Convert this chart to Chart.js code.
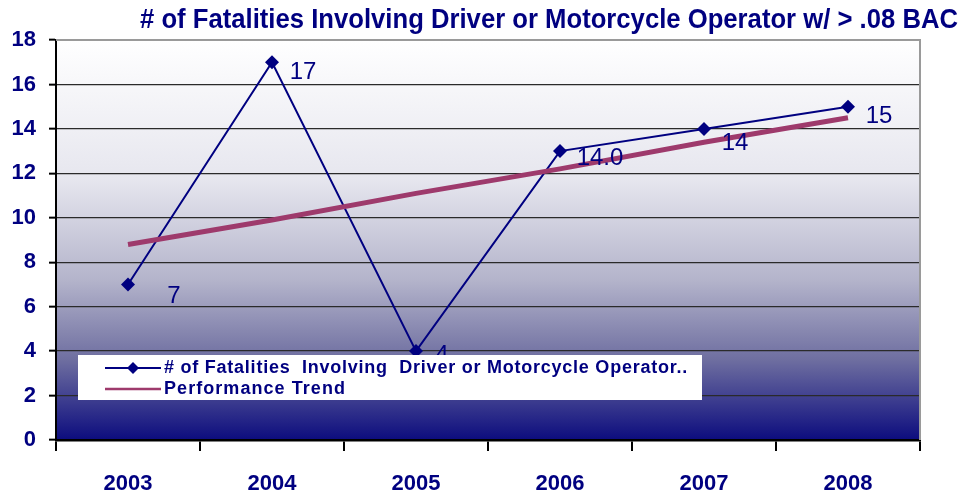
<!DOCTYPE html>
<html>
<head>
<meta charset="utf-8">
<script src="https://cdn.jsdelivr.net/npm/chart.js@4.4.0/dist/chart.umd.min.js"></script>
<style>
  html, body { margin: 0; padding: 0; background: #fff; }
  #wrap { width: 964px; height: 496px; position: relative; }
</style>
</head>
<body>
<div id="wrap"><canvas id="bac_chart" width="964" height="496"></canvas></div>
<script>
// chart data
const years = ["2003", "2004", "2005", "2006", "2007", "2008"];
const fatalities = [7, 17, 4, 13, 14, 15];
const pointLabels = ["7", "17", "4", "14.0", "14", "15"];
const trendValues = [8.8, 9.9, 11.1, 12.2, 13.4, 14.5];
const seriesName = "# of Fatalities  Involving  Driver or Motorcycle Operator..";
const trendName = "Performance Trend";
const chartTitle = "# of Fatalities Involving Driver or Motorcycle Operator w/ > .08 BAC";

const NAVY = "#000080";
const TREND = "#9e3a6c";

// label offsets from each point (px)
const labelOffsets = [[46, 12], [31, 10], [26, 4], [40, 7], [31, 14], [31, 10]];

// draw text squeezed/stretched to a given width
function fitText(c, txt, x, y, w) {
  const m = c.measureText(txt).width;
  c.save();
  c.translate(x, y);
  c.scale(w / m, 1);
  c.fillText(txt, 0, 0);
  c.restore();
}

function spacedText(c, txt, x, y, w) {
  c.save();
  c.letterSpacing = "0px";
  const m = c.measureText(txt).width;
  const sp = (w - m) / txt.length;
  c.letterSpacing = sp + "px";
  c.fillText(txt, x, y);
  c.restore();
}

const bgPlugin = {
  id: "bg",
  beforeDraw(chart) {
    const { ctx, chartArea: a } = chart;
    const g = ctx.createLinearGradient(0, a.top, 0, a.bottom);
    g.addColorStop(0, "#ffffff");
    g.addColorStop(0.35, "#e6e6ee");
    g.addColorStop(0.6, "#b4b4cb");
    g.addColorStop(0.8, "#6e6ea0");
    g.addColorStop(1, "#0c0c7e");
    ctx.save();
    ctx.fillStyle = g;
    ctx.fillRect(a.left, a.top, a.right - a.left, a.bottom - a.top);
    ctx.restore();
  },
  afterDraw(chart) {
    const { ctx, chartArea: a } = chart;
    ctx.save();
    // top / right frame
    ctx.strokeStyle = "#9a9a9a";
    ctx.lineWidth = 2;
    ctx.beginPath();
    ctx.moveTo(a.left, a.top);
    ctx.lineTo(a.right, a.top);
    ctx.lineTo(a.right, a.bottom);
    ctx.stroke();

    // title
    ctx.fillStyle = NAVY;
    ctx.font = "bold 27px 'Liberation Sans', Arial, sans-serif";
    ctx.textBaseline = "middle";
    ctx.textAlign = "left";
    fitText(ctx, chartTitle, 140, 21, 818);
    ctx.restore();
  }
};

const labelPlugin = {
  id: "pointText",
  afterDatasetsDraw(chart) {
    const { ctx } = chart;
    const meta = chart.getDatasetMeta(1);
    ctx.save();
    ctx.fillStyle = NAVY;
    ctx.font = "24px 'Liberation Sans', Arial, sans-serif";
    ctx.textAlign = "center";
    ctx.textBaseline = "middle";
    meta.data.forEach((pt, i) => {
      ctx.fillText(pointLabels[i], pt.x + labelOffsets[i][0], pt.y + labelOffsets[i][1]);
    });
    ctx.restore();
  },
  afterDraw(chart) {
    // legend box sitting inside the plot
    const { ctx } = chart;
    ctx.save();
    ctx.fillStyle = "#ffffff";
    ctx.fillRect(78, 355, 624, 45);
    // series row
    ctx.strokeStyle = NAVY;
    ctx.lineWidth = 2;
    ctx.beginPath();
    ctx.moveTo(105, 368);
    ctx.lineTo(161, 368);
    ctx.stroke();
    ctx.fillStyle = NAVY;
    ctx.beginPath();
    ctx.moveTo(133, 362);
    ctx.lineTo(139, 368);
    ctx.lineTo(133, 374);
    ctx.lineTo(127, 368);
    ctx.closePath();
    ctx.fill();
    // trend row
    ctx.strokeStyle = TREND;
    ctx.lineWidth = 2.5;
    ctx.beginPath();
    ctx.moveTo(105, 389);
    ctx.lineTo(161, 389);
    ctx.stroke();

    ctx.fillStyle = NAVY;
    ctx.font = "bold 18px 'Liberation Sans', Arial, sans-serif";
    ctx.textBaseline = "middle";
    ctx.textAlign = "left";
    spacedText(ctx, seriesName, 164, 368, 524);
    spacedText(ctx, trendName, 164, 389, 182);
    ctx.restore();
  }
};

const ctx = document.getElementById("bac_chart").getContext("2d");
new Chart(ctx, {
  type: "line",
  data: {
    labels: years,
    datasets: [
      {
        label: trendName,
        data: trendValues,
        borderColor: TREND,
        backgroundColor: TREND,
        borderWidth: 5,
        pointRadius: 0,
        fill: false,
        order: 0
      },
      {
        label: seriesName,
        data: fatalities,
        borderColor: NAVY,
        backgroundColor: NAVY,
        borderWidth: 2,
        pointStyle: "rectRot",
        pointRadius: 7,
        pointBorderWidth: 0,
        fill: false,
        order: 1
      }
    ]
  },
  options: {
    responsive: false,
    animation: false,
    layout: { padding: { top: 40, right: 44, left: 0, bottom: 0 } },
    plugins: {
      legend: { display: false },
      tooltip: { enabled: false },
      title: { display: false }
    },
    scales: {
      x: {
        offset: true,
        afterFit(scale) { scale.height = 56; },
        grid: {
          offset: true,
          drawOnChartArea: false,
          drawTicks: true,
          tickLength: 11,
          tickColor: "#000",
          lineWidth: 2
        },
        border: { display: true, color: "#000", width: 2.5 },
        ticks: {
          color: NAVY,
          padding: 20,
          font: { family: "'Liberation Sans', Arial, sans-serif", size: 22, weight: "bold" }
        }
      },
      y: {
        min: 0,
        max: 18,
        afterFit(scale) { scale.width = 56; },
        grid: {
          color: (c) => (c.tick && c.tick.value === 18 ? "rgba(0,0,0,0)" : "#2a2a2a"),
          lineWidth: 1.3,
          drawTicks: true,
          tickLength: 7,
          tickColor: "#000",
          tickWidth: 2
        },
        border: { display: true, color: "#000", width: 2 },
        ticks: {
          stepSize: 2,
          color: NAVY,
          padding: 13,
          font: { family: "'Liberation Sans', Arial, sans-serif", size: 22, weight: "bold" }
        }
      }
    }
  },
  plugins: [bgPlugin, labelPlugin]
});
</script>
</body>
</html>
